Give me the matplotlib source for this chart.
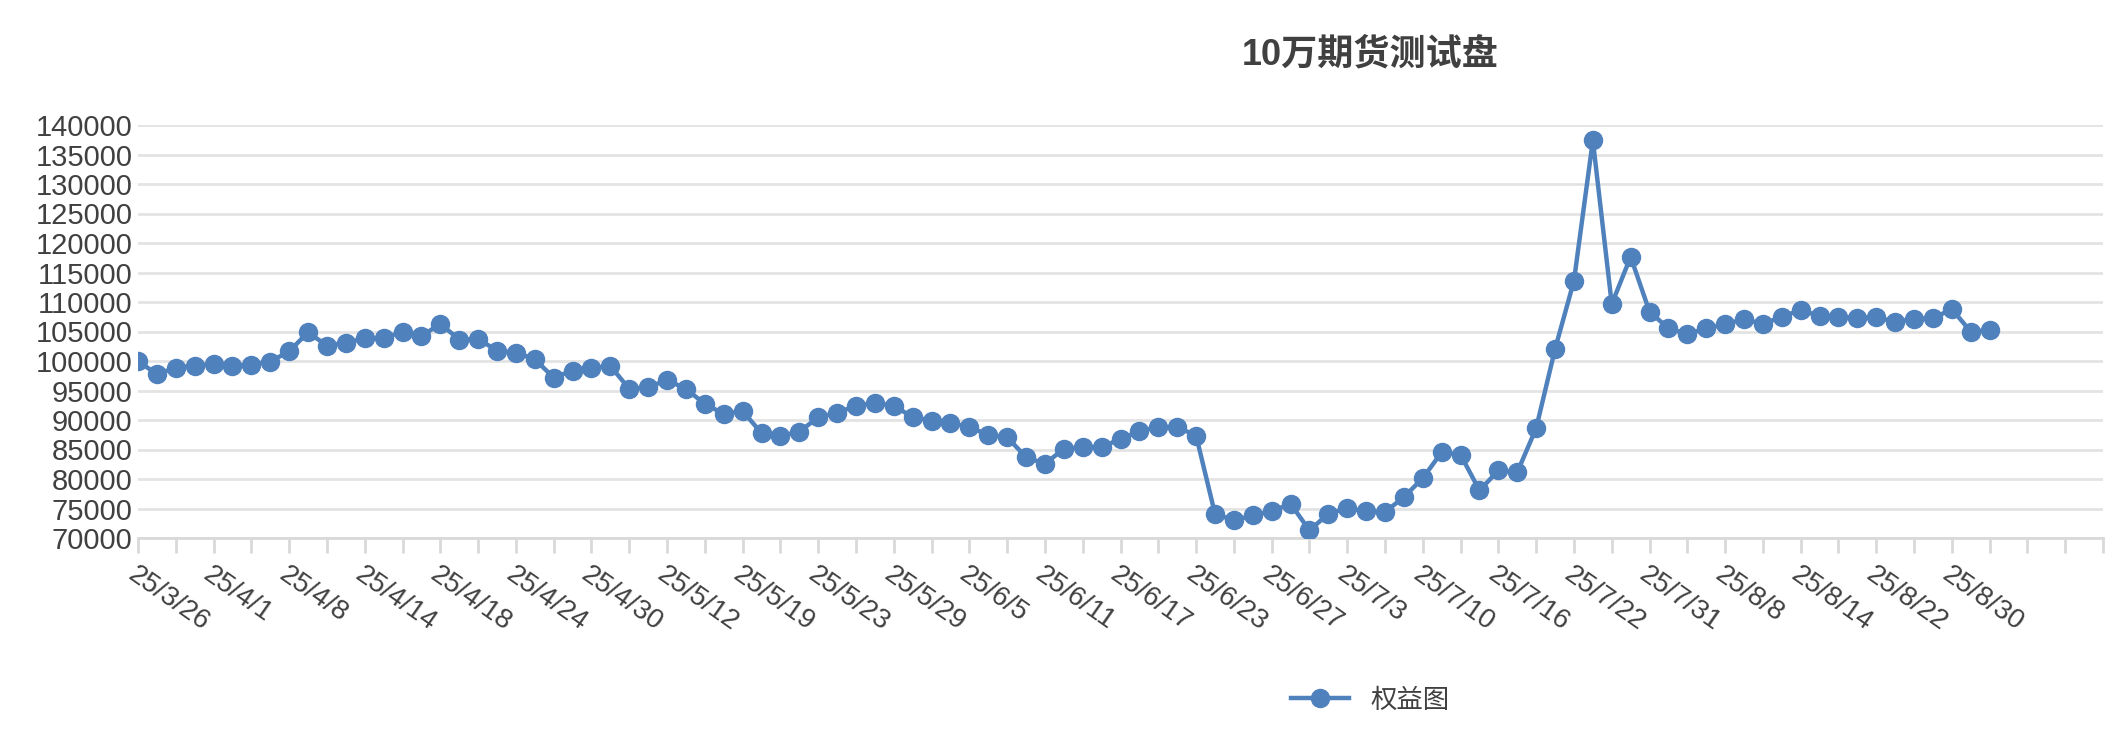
import numpy as np
import matplotlib
matplotlib.use("Agg")
import matplotlib.pyplot as plt

# equity curve, one value per trading day
equity = [
    100000, 97750, 98880, 99220, 99500, 99220, 99400, 99900, 101640, 104860,
    102600, 103100, 103840, 103840, 105000, 104180, 106320, 103620, 103730, 101760,
    101420, 100290, 97190, 98370, 98820, 99160, 95270, 95550, 96790, 95270,
    92730, 91040, 91490, 87800, 87300, 88000, 90470, 91200, 92440, 92840,
    92440, 90470, 89910, 89510, 88780, 87480, 87090, 83700, 82570, 85110,
    85400, 85400, 86810, 88110, 88780, 88780, 87370, 74110, 72980, 73830,
    74510, 75810, 71290, 74110, 75070, 74510, 74400, 76940, 80150, 84550,
    84100, 78060, 81450, 81160, 88610, 102030, 113600, 137400, 109650, 117660,
    108350, 105530, 104570, 105530, 106210, 107110, 106270, 107510, 108640, 107620,
    107510, 107340, 107400, 106660, 107110, 107230, 108800, 104970, 105250,
]
date_labels = [
    "25/3/26", "25/4/1", "25/4/8", "25/4/14", "25/4/18", "25/4/24", "25/4/30",
    "25/5/12", "25/5/19", "25/5/23", "25/5/29", "25/6/5", "25/6/11", "25/6/17",
    "25/6/23", "25/6/27", "25/7/3", "25/7/10", "25/7/16", "25/7/22", "25/7/31",
    "25/8/8", "25/8/14", "25/8/22", "25/8/30",
]
n_categories = 104  # axis runs past the last data point

plt.rcParams["font.family"] = ["Liberation Sans", "Noto Sans CJK SC"]

fig = plt.figure(figsize=(21.08, 7.32), dpi=100)
ax = fig.add_axes([138 / 2108, 1 - 538 / 732, (2103 - 138) / 2108, (538 - 125) / 732])

x = np.arange(len(equity))
ax.plot(x, equity, color="#4f81bd", lw=3.2, marker="o", ms=13, label="权益图", zorder=3)

ax.set_xlim(0, n_categories)
ax.set_ylim(70000, 140000)
ax.set_yticks(np.arange(70000, 140001, 5000))
ax.grid(axis="y", color="#e3e3e3", lw=2)
ax.set_axisbelow(True)

ax.set_xticks(np.arange(0, n_categories + 1, 2), minor=True)
ax.set_xticks(np.arange(0, 4 * len(date_labels), 4))
ax.set_xticklabels(date_labels, rotation=-35, ha="left", rotation_mode="anchor")
ax.tick_params(axis="x", which="both", direction="out", length=11, width=2, color="#d9d9d9",
               labelsize=20, labelcolor="#404040", pad=6)
ax.tick_params(axis="y", length=0, labelsize=21, labelcolor="#404040", pad=4)

for s in ["left", "right", "top"]:
    ax.spines[s].set_visible(False)
ax.spines["bottom"].set_color("#d9d9d9")
ax.spines["bottom"].set_linewidth(2)

fig.text(0.65, 0.925, "10万期货测试盘", fontsize=26, fontweight="bold", color="#404040",
         ha="center", va="center", family=["Liberation Sans", "Noto Sans CJK SC"])

fig.legend(loc="center", bbox_to_anchor=(1370 / 2108, 1 - 700 / 732), frameon=False,
           fontsize=19, handlelength=2.2, labelcolor="#404040",
           prop={"family": "Noto Sans CJK SC", "size": 19})

fig.savefig("out.png", dpi=100)
